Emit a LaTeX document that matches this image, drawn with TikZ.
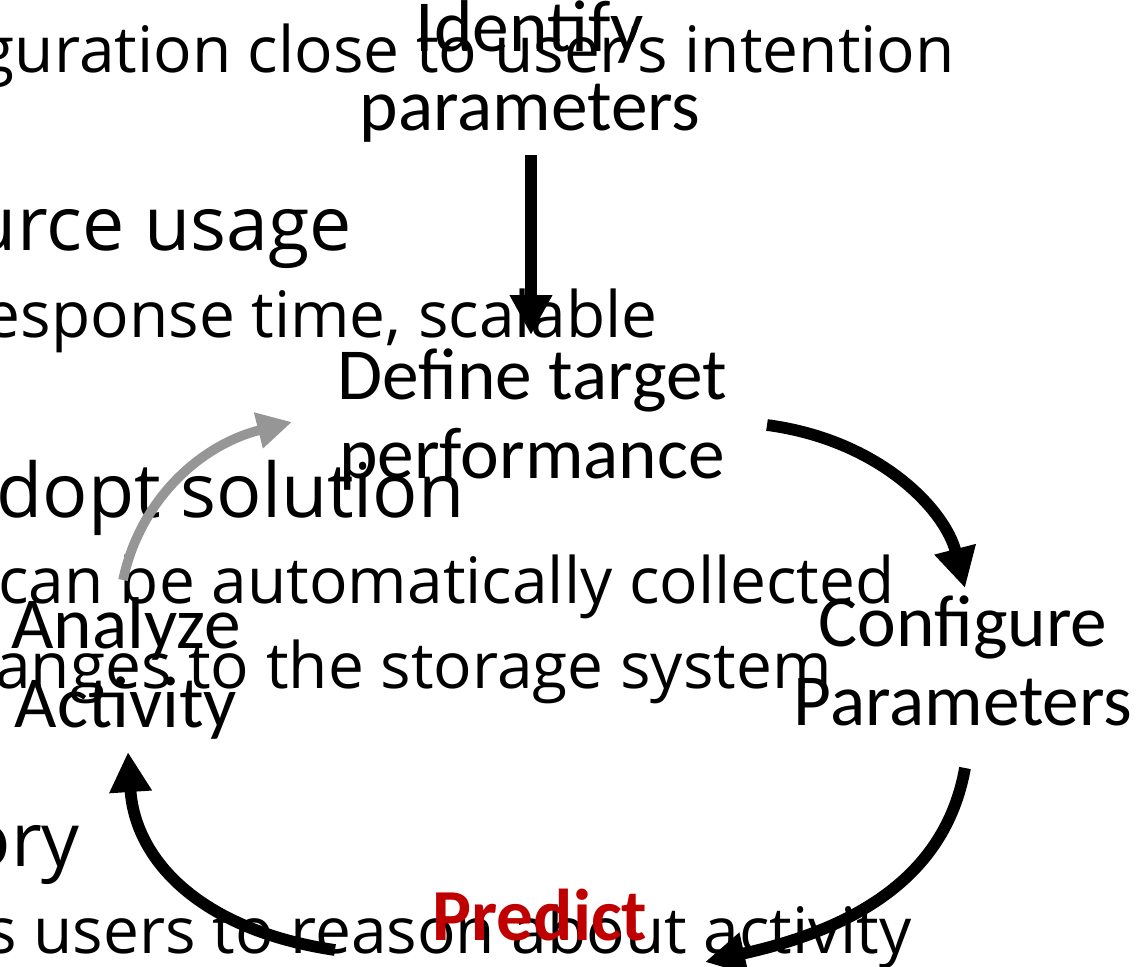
\documentclass[tikz,border=0pt]{standalone}
\usepackage{fontspec}
\setmainfont{Carlito}
\newfontfamily\bodyfont{Open Sans}
\usetikzlibrary{arrows.meta,calc}

\definecolor{predictred}{RGB}{192,0,0}
\definecolor{loopgray}{RGB}{150,150,150}

\tikzset{
  stagelabel/.style={inner sep=0pt, anchor=base, align=center,
    font=\fontsize{55}{59}\selectfont},
  bigbullet/.style={inner sep=0pt, anchor=base east,
    font=\bodyfont\fontsize{56.5}{68}\selectfont},
  subbullet/.style={inner sep=0pt, anchor=base east,
    font=\bodyfont\fontsize{48}{58}\selectfont},
  flow/.style={line width=8.8pt, -{Triangle[length=30pt,width=30pt]}},
  loopback/.style={line width=7.2pt, draw=loopgray,
    -{Triangle[length=26pt,width=26pt,fill=loopgray]}},
}

\begin{document}
\begin{tikzpicture}[x=0.75pt,y=-0.75pt]
\useasboundingbox (0,0) rectangle (1139,967);
\clip (0,0) rectangle (1139,967);

% slide body text behind the cycle
\node[subbullet] (b1) at (955,72) {guration close to user’s intention};
\node[bigbullet] (b2) at (352,250) {urce usage};
\node[subbullet] (b3) at (658,337) {esponse time, scalable};
\node[bigbullet] (b4) at (465,517) {dopt solution};
\node[subbullet] (b5) at (895,603) {can be automatically collected};
\node[subbullet] (b6) at (832,688) {anges to the storage system};
\node[bigbullet] (b7) at (80,866) {ory};
\node[subbullet] (b8) at (912,953) {s users to reason about activity};

% cycle stages (each placed by the baseline of its last line)
\node[stagelabel] (ident)   at (530,130) {Identify\\parameters};
\node[stagelabel] (define)  at (532,478) {Define target\\performance};
\node[stagelabel] (config)  at (963,725) {Configure\\Parameters};
\node[stagelabel] (analyze) at (126,727) {Analyze\\Activity};
\node[stagelabel, font=\bfseries\fontsize{55}{59}\selectfont, text=predictred]
  (predict) at (540,940) {Predict};

% connectors
\draw[flow] ($(ident.base)+(1,25)$) -- ($(define.base)+(-1,-143)$);
\draw[flow] ($(define.base)+(235,-53)$)
  .. controls +(113,15) and +(-20,-78) .. ($(config.base)+(2,-137)$);
\draw[flow] ($(config.base)+(2,43)$)
  .. controls +(-20,112) and +(145,-32) .. ($(predict.base)+(165,22)$);
\draw[flow] ($(predict.base)+(-205,10)$)
  .. controls +(-135,-20) and +(7,108) .. ($(analyze.base)+(2,25)$);
\draw[loopback] ($(analyze.base)+(-3,-147)$)
  .. controls +(17,-80) and +(-92,23) .. ($(define.base)+(-240,-56)$);
\end{tikzpicture}
\end{document}
